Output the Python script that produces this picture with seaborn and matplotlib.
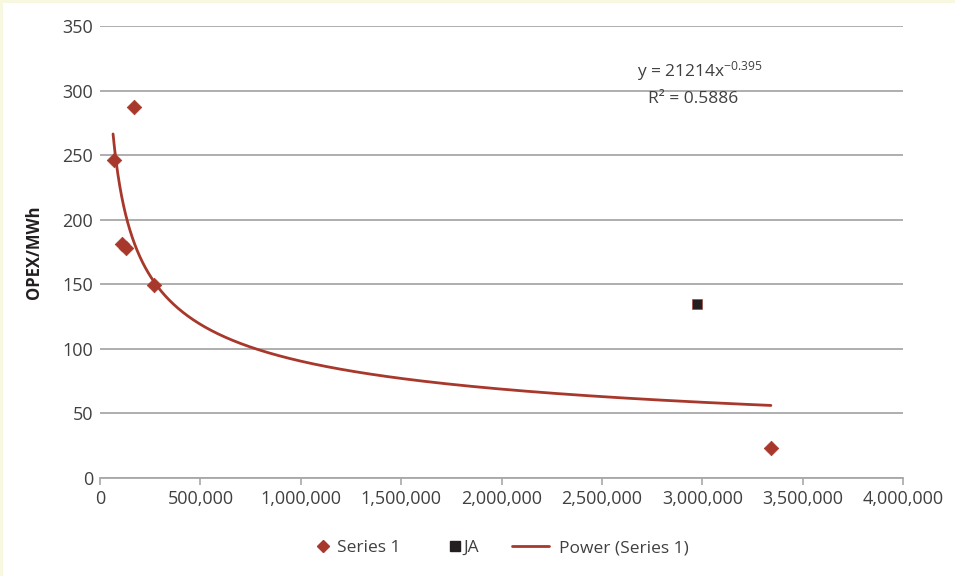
import numpy as np
import pandas as pd
import matplotlib
matplotlib.use("Agg")
import matplotlib.pyplot as plt
import seaborn as sns
from matplotlib.lines import Line2D
from matplotlib.patches import Rectangle

# Data
series1_x = [70000, 110000, 130000, 170000, 269000, 3342000]
series1_y = [246, 181, 178, 287, 149.5, 23.5]
ja_x = [2975000]
ja_y = [135]
coef_a = 21214
coef_b = -0.395
trend_range = [65000, 3342000]
x_ticks = [0, 500000, 1000000, 1500000, 2000000, 2500000, 3000000, 3500000, 4000000]
y_ticks = [0, 50, 100, 150, 200, 250, 300, 350]

sns.set_theme(style="white")
plt.rcParams['font.family'] = ['Open Sans', 'DejaVu Sans']
plt.rcParams['mathtext.fontset'] = 'custom'
plt.rcParams['mathtext.rm'] = 'Open Sans'
plt.rcParams['mathtext.it'] = 'Open Sans'
plt.rcParams['mathtext.default'] = 'regular'

red = "#A8382B"
txt = "#404040"
grid = "#A8A8A8"

fig = plt.figure(figsize=(9.55, 5.76), dpi=100)
fig.patch.set_facecolor("white")
fig.patches.append(Rectangle((0, 1 - 3/576), 1, 3/576, transform=fig.transFigure,
                             facecolor="#F8F8E0", edgecolor="none", zorder=0))
fig.patches.append(Rectangle((0, 0), 3/955, 1, transform=fig.transFigure,
                             facecolor="#F8F8E0", edgecolor="none", zorder=0))

ax = fig.add_axes([100/955, 1 - 478/576, 803/955, 452/576])
ax.set_facecolor("white")

df1 = pd.DataFrame({"x": series1_x, "y": series1_y})
dfja = pd.DataFrame({"x": ja_x, "y": ja_y})
xt = np.geomspace(trend_range[0], trend_range[1], 400)
dft = pd.DataFrame({"x": xt, "y": coef_a * xt ** coef_b})

sns.lineplot(data=dft, x="x", y="y", ax=ax, color=red, linewidth=2.0, zorder=3)
sns.scatterplot(data=df1, x="x", y="y", ax=ax, marker="D", s=55, color=red,
                edgecolor=red, linewidth=0.5, zorder=4)
sns.scatterplot(data=dfja, x="x", y="y", ax=ax, marker="s", s=55, color="#231F20",
                edgecolor=red, linewidth=0.4, zorder=4)

ax.set_xlim(0, 4000000)
ax.set_ylim(0, 350)
ax.set_xticks(x_ticks)
ax.set_xticklabels([f"{v:,}" for v in x_ticks])
ax.set_yticks(y_ticks)
ax.set_yticklabels([str(v) for v in y_ticks])
ax.yaxis.grid(True, color=grid, linewidth=1.3)
ax.set_axisbelow(True)
for s in ["top", "right", "left"]:
    ax.spines[s].set_visible(False)
ax.spines["bottom"].set_color(grid)
ax.spines["bottom"].set_linewidth(1.3)
ax.tick_params(axis="x", which="both", bottom=True, length=5, width=1.2, color=grid,
               labelsize=13, labelcolor=txt, pad=4)
ax.tick_params(axis="y", left=False, length=0, labelsize=13, labelcolor=txt, pad=5)
ax.set_xlabel("")
ax.set_ylabel("OPEX/MWh", fontsize=12, fontweight="bold", color="#231F20", labelpad=14)

fig.text(700/955, 1 - 71/576, r"y = 21214x$^{-0.395}$", ha="center", va="center",
         fontsize=12.5, color=txt)
fig.text(693/955, 1 - 99/576, "R² = 0.5886", ha="center", va="center",
         fontsize=12.5, color=txt)

ly = 1 - 548/576
entries = [
    (Line2D([], [], marker="D", color=red, linestyle="none", markersize=6.5),
     "Series 1", 316, 0.8, 0.4),
    (Line2D([], [], marker="s", color="#231F20", linestyle="none", markersize=6.5),
     "JA", 449, 0.7, 0.15),
    (Line2D([], [], color=red, linewidth=2),
     "Power (Series 1)", 512, 2.15, 0.55),
]
for h, lab, x0, hl, htp in entries:
    leg = fig.legend([h], [lab], loc="center left", bbox_to_anchor=(x0/955, ly),
                     frameon=False, fontsize=12.5, handlelength=hl,
                     handletextpad=htp, borderpad=0, borderaxespad=0)
    for t in leg.get_texts():
        t.set_color(txt)

fig.savefig("out.png", dpi=100, facecolor="white")
